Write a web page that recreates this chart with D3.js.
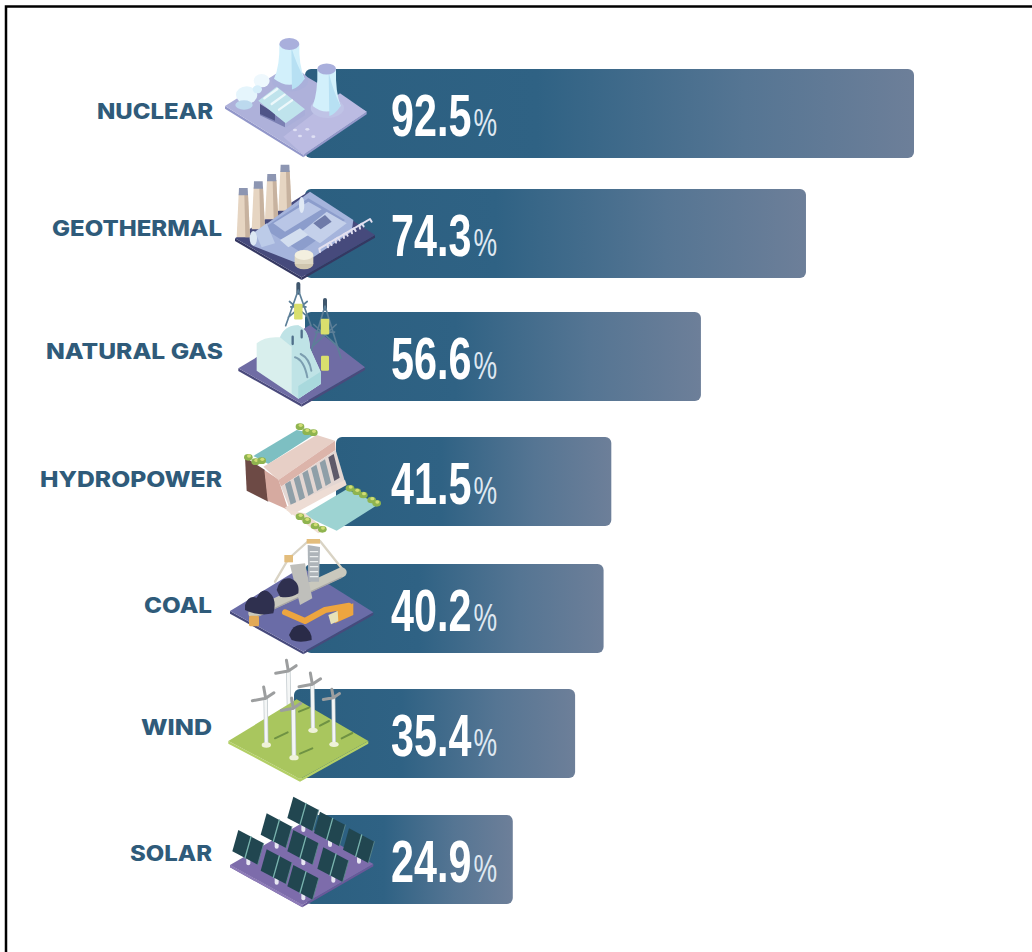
<!DOCTYPE html>
<html>
<head>
<meta charset="utf-8">
<style>html,body{margin:0;padding:0;background:#fff}svg{display:block}</style>
<script src="https://cdn.jsdelivr.net/npm/d3@7/dist/d3.min.js"></script>
</head>
<body>
<div id="chart"></div>
<script>
// Capacity factor by energy source
const categories = ["NUCLEAR","GEOTHERMAL","NATURAL GAS","HYDROPOWER","COAL","WIND","SOLAR"];
const values = [92.5,74.3,56.6,41.5,40.2,35.4,24.9];

const W = 1032, H = 952;
const svg = d3.select("#chart").append("svg").attr("width",W).attr("height",H);

const x = d3.scaleLinear().domain([0,92.5]).range([365,914]);
// Rows are hand-spaced around the artwork, so the tops are listed rather than banded
const rowTop = d3.scaleOrdinal().domain(categories).range([69,189,312,437,564,689,815]);
const labelEnd = d3.scaleOrdinal().domain(categories).range([213,222,223,222,212,212,212]);
const labelMid = d3.scaleOrdinal().domain(categories).range([111,228,351,479,605,727,853]);
const labelWidth = d3.scaleOrdinal().domain(categories).range([116,170,177,182,68,71,82]);
// Each bar tucks in behind its illustration at a slightly different point
const barLeft = d3.scaleOrdinal().domain(categories).range([305,305,305,336,305,294,305]);
const barHeight = 89;

const grad = svg.append("defs").append("linearGradient").attr("id","barFill");
grad.selectAll("stop").data([[0,"#2b5f80"],[0.38,"#2f6284"],[0.72,"#557593"],[1,"#6d7f99"]])
  .join("stop").attr("offset",d=>d[0]).attr("stop-color",d=>d[1]);

// Frame along the top and left edges
svg.append("path").attr("d","M6,952V6.5H1032").attr("fill","none").attr("stroke","#000").attr("stroke-width",2.5);

const rows = svg.selectAll("g.row").data(categories.map((c,i)=>({c,v:values[i]}))).join("g").attr("class","row");

rows.append("rect").attr("x",d=>barLeft(d.c)).attr("y",d=>rowTop(d.c))
  .attr("width",d=>x(d.v)-barLeft(d.c)).attr("height",barHeight).attr("rx",6).attr("fill","url(#barFill)");

rows.append("text").attr("x",d=>labelEnd(d.c)).attr("y",d=>labelMid(d.c)+7.5).attr("text-anchor","end")
  .attr("font-family","Inter, 'Open Sans', sans-serif").attr("font-weight",800).attr("font-size",21.5)
  .attr("textLength",d=>labelWidth(d.c)).attr("lengthAdjust","spacingAndGlyphs")
  .attr("fill","#2f5b7a").text(d=>d.c);

// Value with its smaller percent sign, set in one condensed line
const valueText = rows.append("text")
  .attr("transform",d=>`translate(391,${rowTop(d.c)+67}) scale(0.7,1)`)
  .attr("font-family","'Liberation Sans',sans-serif")
  .attr("font-weight",700).attr("font-size",59).attr("fill","#fff").text(d=>d.v.toFixed(1));
valueText.append("tspan").attr("dx",3).attr("font-weight",400).attr("font-size",38).attr("fill","#dfe8f1").text("%");

// --- Isometric illustrations, drawn on a 3x grid so fine parts stay easy to place ---
const poly=(g,...a)=>{
  const f=a.pop(), p=a.length===1?a[0]:a;
  return g.append("polygon").attr("points",p.map(q=>q.join(",")).join(" ")).attr("fill",f);
};
const ell=(g,cx,cy,rx,ry,f)=>g.append("ellipse").attr("cx",cx).attr("cy",cy).attr("rx",rx).attr("ry",ry).attr("fill",f);
const pth=(g,d,f,s,w)=>g.append("path").attr("d",d).attr("fill",f||"none").attr("stroke",s||"none").attr("stroke-width",w||0).attr("stroke-linecap","round").attr("stroke-linejoin","round");
const line=(g,a,b,s,w)=>pth(g,`M${a[0]},${a[1]}L${b[0]},${b[1]}`,null,s,w);

function slab(g,L,T,R,B,top,side,th){
  poly(g,[L,B,[B[0],B[1]+th],[L[0],L[1]+th]],side);
  poly(g,[B,R,[R[0],R[1]+th],[B[0],B[1]+th]],side);
  poly(g,[L,T,R,B],top);
}

function coolingTower(g,cx,topY,baseY,topR,baseR,skirtFill){
  ell(g,cx+2,baseY+2,baseR+8,baseR*0.62+4,skirtFill);
  const h=baseY-topY;
  pth(g,`M${cx-topR},${topY}Q${cx-topR+2},${topY+h*0.6} ${cx-baseR},${baseY-4}Q${cx},${baseY+baseR*0.7} ${cx+baseR},${baseY-4}Q${cx+topR-2},${topY+h*0.6} ${cx+topR},${topY}Z`,"#d2f0fb");
  pth(g,`M${cx+6},${topY+10}Q${cx+topR-8},${topY+h*0.6} ${cx+baseR},${baseY-4}Q${cx+baseR*0.6},${baseY+baseR*0.5} ${cx+8},${baseY+baseR*0.62}Z`,"#b7e0f3");
  ell(g,cx,topY,topR,topR*0.6,"#a9afdc");
}

const drawIcon = {
  NUCLEAR(g){
    slab(g,[15,228],[205,108],[440,245],[250,374],"#aeb1da","#9297c9",8);
    poly(g,[250,374],[440,245],[360,190],[190,320],"#bbbbe2");
    coolingTower(g,208,42,150,30,46,"#aab0da");
    coolingTower(g,320,117,232,28,42,"#bfc3e6");
    // turbine hall
    poly(g,[120,222],[195,276],[195,292],[120,256],"#7b80b3");
    poly(g,[120,222],[165,250],[165,272],[120,252],"#4f5488");
    poly(g,[195,276],[255,238],[255,256],[195,294],"#a9aed9");
    poly(g,[115,212],[170,170],[255,238],[197,280],"#bfe3ec");
    [0,1,2].forEach(i=>line(g,[133+i*22,205+i*17],[172+i*22,177+i*17],"#edf8fb",7));
    ell(g,80,195,32,26,"#e5f5fc"); ell(g,72,225,26,14,"#bcd9ee");
    ell(g,125,152,24,20,"#eef8fd"); ell(g,112,178,14,12,"#d6eefa");
    [[240,318],[262,298],[225,300],[280,320]].forEach(p=>ell(g,p[0],p[1],6,4,"#dfe0f4"));
  },
  GEOTHERMAL(g){
    slab(g,[15,235],[235,95],[435,225],[215,352],"#464a7c","#353862",8);
    [[40,92,232],[85,72,208],[125,50,178],[165,22,152]].forEach(c=>{
      poly(g,[[c[0]-14,c[1]+10],[c[0]+14,c[1]+10],[c[0]+20,c[2]],[c[0]-20,c[2]]],"#e6d5c2");
      poly(g,[[c[0]+3,c[1]+10],[c[0]+14,c[1]+10],[c[0]+20,c[2]],[c[0]+6,c[2]]],"#c7b29f");
      poly(g,[[c[0]-13,c[1]-8],[c[0]+13,c[1]-8],[c[0]+14,c[1]+14],[c[0]-14,c[1]+14]],"#8d96b2");
    });
    poly(g,[[65,225],[240,95],[370,180],[365,215],[215,315],[70,258]],"#a5b4dc");
    poly(g,[[100,205],[235,115],[345,180],[210,275]],"#8c9dcc");
    poly(g,[[130,190],[235,125],[275,148],[165,215]],"#b9c6e6");
    poly(g,[[215,215],[290,155],[350,190],[270,250]],"#c4d0ea");
    poly(g,[[250,190],[285,165],[305,185],[272,208]],"#6e7aa8");
    poly(g,[[150,240],[210,205],[235,225],[175,262]],"#d3deef");
    poly(g,[[75,215],[110,190],[135,250],[95,262]],"#bccbe8");
    ell(g,215,135,8,24,"#e0e9f5"); ell(g,70,235,11,22,"#dbe7f3");
    d3.range(6).forEach(i=>{
      pth(g,`M${270+i*24},${276-i*14}l-2,-10l32,-19l5,8`,null,"#e2e0f0",6);
    });
    ell(g,222,312,28,16,"#cfc5ae");
    g.append("rect").attr("x",194).attr("y",285).attr("width",56).attr("height",27).attr("fill","#dfd8c4");
    ell(g,222,285,28,15,"#f3efdf");
  },
  "NATURAL GAS"(g){
    slab(g,[25,265],[240,135],[405,262],[215,372],"#6f6ca4","#4a4a7c",8);
    const tower=(cx,top,h,spread)=>{
      line(g,[cx,top],[cx,top+26],"#3f566c",12);
      pth(g,`M${cx},${top+18}L${cx-spread},${top+h}M${cx},${top+18}L${cx+spread},${top+h}M${cx-spread*0.6},${top+h*0.55}L${cx+spread*0.6},${top+h*0.55}M${cx-spread*0.8},${top+h*0.8}L${cx+spread*0.7},${top+h*0.42}M${cx+spread*0.8},${top+h*0.8}L${cx-spread*0.7},${top+h*0.42}`,null,"#5c7f98",5);
    };
    tower(205,12,125,38);
    tower(285,60,175,48);
    [[205,95,17],[285,140,17],[285,250,16]].forEach(b=>{
      g.append("rect").attr("x",b[0]-b[2]*0.75).attr("y",b[1]-b[2]*1.4).attr("width",b[2]*1.5).attr("height",b[2]*2.8).attr("rx",4).attr("fill","#d9df6d");
    });
    pth(g,"M80,190Q105,168 150,172Q165,135 205,136Q238,150 240,205L272,275L272,312L205,356L80,272Z","#d9efed");
    pth(g,"M150,172Q165,135 205,136Q238,150 240,205L272,275L272,312L205,356L185,340L185,200Z","#bfe3e6");
    pth(g,"M205,356L272,312L272,275L205,318Z","#a9d9dd");
    pth(g,"M188,170L188,192M215,152L215,172","none","#4f6f8a",7);
    pth(g,"M195,232Q222,240 232,292M212,222Q238,235 244,272","none","#7c9eb0",6);
  },
  HYDROPOWER(g){
    poly(g,[[30,112],[90,150],[100,245],[35,212]],"#6d4a45");
    poly(g,[[88,150],[130,178],[160,270],[98,242]],"#d6aaa0");
    poly(g,[[55,108],[185,30],[240,42],[100,132]],"#7dbfc2");
    poly(g,[[85,140],[245,45],[300,62],[130,180]],"#e7cfc6");
    poly(g,[[130,180],[300,62],[302,90],[138,200]],"#dcb4aa");
    poly(g,[[138,200],[302,90],[330,185],[165,268]],"#e3d6d2");
    d3.range(6).forEach(i=>{
      poly(g,[[150+i*26,192-i*16],[166+i*26,182-i*16],[184+i*26,248-i*15],[168+i*26,258-i*15]],i==5?"#5f5a6a":"#8f9fa8");
    });
    poly(g,[[150,262],[330,180],[335,195],[170,285]],"#eddcd4");
    poly(g,[[205,285],[335,208],[432,252],[305,332]],"#9dd3d2");
    poly(g,[[150,268],[210,280],[272,330],[250,340],[190,295]],"#f0dfd3");
    [[40,112],[62,125],[80,122],[195,20],[215,35],[235,38],[345,205],[365,215],[385,225],[410,240],[425,250],[195,290],[215,302],[240,318],[262,328]].forEach(p=>{
      ell(g,p[0],p[1],13,10,"#8fb44f");
      ell(g,p[0]+2,p[1]-4,6,5,"#d2dd75");
    });
  },
  COAL(g){
    slab(g,[15,228],[230,97],[445,232],[235,350],"#6a6ca7","#474a7c",8);
    pth(g,"M190,72L250,18L285,18L350,100M190,72L150,140","none","#d9d3c4",7);
    g.append("rect").attr("x",245).attr("y",12).attr("width",40).attr("height",14).attr("fill","#e3bd7c");
    g.append("rect").attr("x",178).attr("y",60).attr("width",26).attr("height",22).attr("fill","#e3bd7c");
    pth(g,"M85,235L350,112","none","#c9c8bd",30);
    pth(g,"M85,250L350,127","none","#a9a8a6",4);
    pth(g,"M195,90L240,85L262,190L225,210Z","#bfbfbb");
    pth(g,"M248,30L285,36L282,140L250,140Z","#aeb4b9");
    [50,65,80,95,110,125].forEach(y=>line(g,[256,y],[278,y],"#ecefef",4));
    pth(g,"M60,210Q70,180 95,188Q115,150 140,180Q155,200 145,235Q100,245 60,225Z","#2f304f");
    pth(g,"M155,165Q165,125 195,130Q225,140 220,175Q195,192 165,185Z","#2f304f");
    pth(g,"M192,300Q205,265 235,270Q262,290 260,315Q225,325 200,315Z","#2a2b48");
    pth(g,"M180,232L240,258L300,225L372,212","none","#eda53f",18);
    poly(g,[[335,225],[385,205],[385,240],[330,265]],"#eda53f");
    poly(g,[[310,240],[338,228],[340,258],[318,268]],"#e7e2b8");
    g.append("rect").attr("x",72).attr("y",242).attr("width",30).attr("height",32).attr("rx",5).attr("fill","#e2a956");
  },
  WIND(g){
    const tur=(hx,hy,by,w,bl)=>{
      line(g,[hx,hy],[hx+2,by],"#b9c2c6",w+4);
      line(g,[hx,hy],[hx+2,by],"#f4f6f6",w);
      pth(g,`M${hx},${hy}L${hx-bl},${hy+bl*0.18}M${hx},${hy}L${hx-bl*0.15},${hy-bl*0.85}M${hx},${hy}L${hx+bl*0.62},${hy-bl*0.42}`,null,"#9c9e9f",9);
      ell(g,hx+2,by,14,8,"#eef2d8");
    };
    tur(190,48,160,9,38);
    slab(g,[10,258],[215,133],[430,258],[225,372],"#a9c65e","#b3cf66",8);
    [[[150,250],[188,232]],[[222,170],[252,158]],[[225,296],[262,280]],[[285,212],[312,198]],[[350,250],[382,234]]].forEach(s=>line(g,s[0],s[1],"#6f9243",6));
    tur(262,88,226,9,40);
    tur(325,128,268,8,30);
    tur(122,130,270,9,40);
    tur(205,160,308,10,36);
  },
  SOLAR(g){
    slab(g,[15,225],[230,100],[445,222],[232,345],"#7d6cab","#6a5899",7);
    poly(g,[[15,225],[232,345],[232,352],[15,232]],"#8e7cb8");
    [[205,20],[285,65],[372,115],[125,70],[205,120],[295,172],[40,120],[125,178],[205,225]].forEach(o=>{
      const [ox,oy]=o, a=[76,40], b=[-18,64];
      line(g,[ox+30,oy+60],[ox+30,oy+100],"#e8e6f2",12);
      poly(g,[[ox,oy],[ox+a[0],oy+a[1]],[ox+a[0]+b[0],oy+a[1]+b[1]],[ox+b[0],oy+b[1]]],"#214650");
      line(g,[ox+a[0]/2,oy+a[1]/2],[ox+a[0]/2+b[0],oy+a[1]/2+b[1]],"#79b3ae",4);
      line(g,[ox+a[0],oy+a[1]],[ox+a[0]+b[0],oy+a[1]+b[1]],"#5f8c8f",2.5);
    });
  }
};

// Left edge of each illustration's grid, and its rise above the bar top
const iconX = d3.scaleOrdinal().domain(categories).range([220,230,230,235,225,225,225]);
const iconRise = d3.scaleOrdinal().domain(categories).range([39,29,32,17,29,34,25]);

rows.each(function(d){
  const g = d3.select(this).append("g")
    .attr("transform",`translate(${iconX(d.c)},${rowTop(d.c)-iconRise(d.c)}) scale(${1/3})`);
  drawIcon[d.c](g);
});
</script>
</body>
</html>
